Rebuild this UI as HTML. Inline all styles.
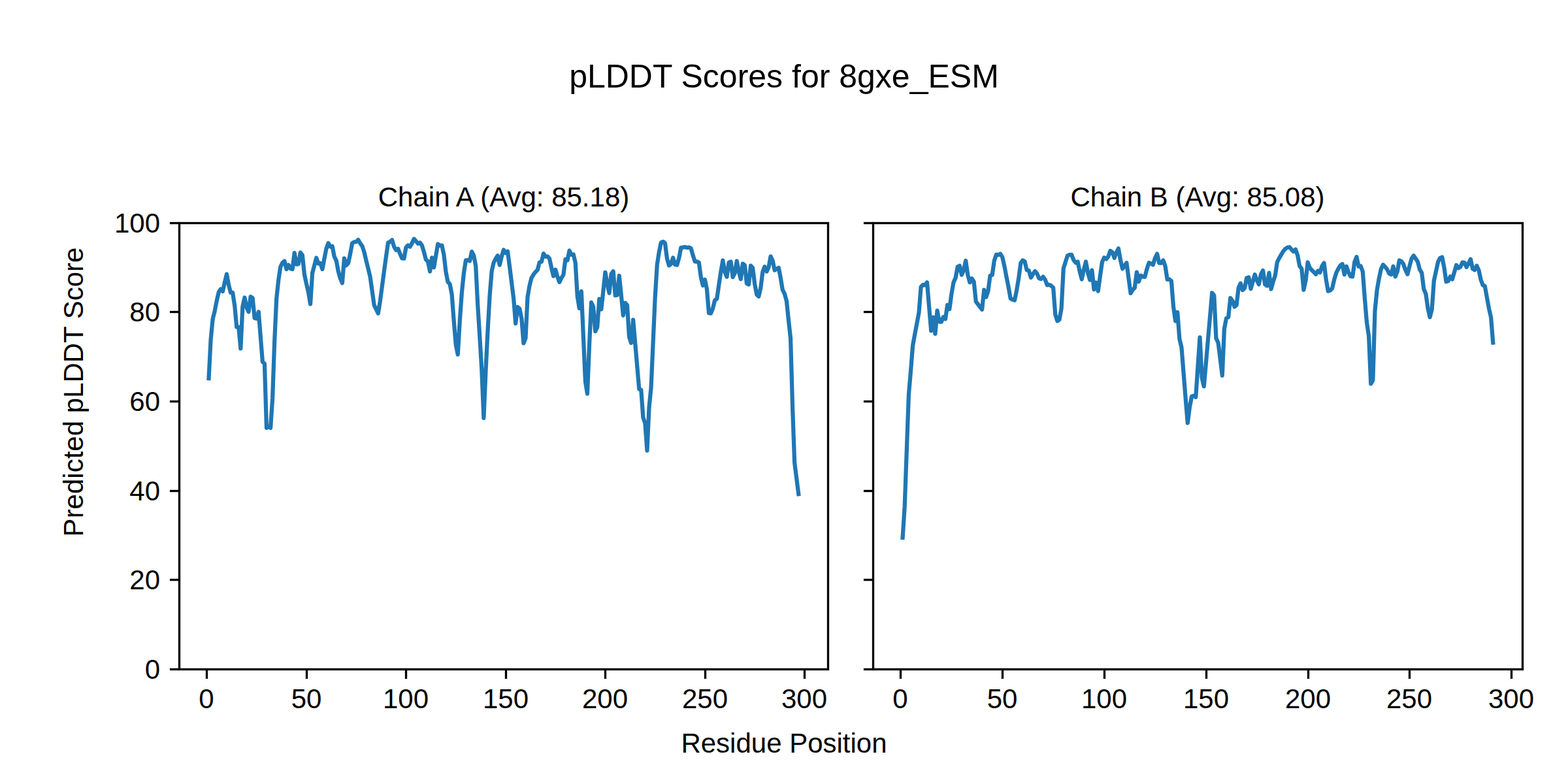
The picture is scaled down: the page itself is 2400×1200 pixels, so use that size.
<!DOCTYPE html>
<html lang="en"><head><meta charset="utf-8"><title>pLDDT Scores for 8gxe_ESM</title>
<style>html,body{margin:0;padding:0;background:#fff;}body{width:2400px;height:1200px;overflow:hidden;font-family:"Liberation Sans",sans-serif;}svg{display:block;}.sp{stroke:#000;stroke-width:3.3333;fill:none;stroke-linecap:square}.tk{stroke:#000;stroke-width:3.3333;fill:none;stroke-linecap:butt}.ln{stroke:#1f77b4;stroke-width:6.25;fill:none;stroke-linejoin:round;stroke-linecap:square}.t{font-family:"Liberation Sans",sans-serif;fill:#000}</style></head><body>
<svg width="2400" height="1200" viewBox="0 0 2400 1200">
<rect x="0" y="0" width="2400" height="1200" fill="#fff"/>
<defs>
<clipPath id="ca"><rect x="274.40" y="340.70" width="993.00" height="683.20"/></clipPath>
<clipPath id="cb"><rect x="1336.40" y="340.70" width="994.00" height="683.20"/></clipPath>
</defs>
<g clip-path="url(#ca)"><polyline class="ln" points="319.54,579.14 322.59,519.70 325.64,488.27 328.69,475.97 331.74,460.26 334.79,447.28 337.83,442.50 340.88,445.91 343.93,432.25 346.98,419.61 350.03,436.01 353.08,447.96 356.13,447.96 359.18,467.78 362.23,500.57 365.28,500.57 368.33,533.36 371.38,469.14 374.43,455.48 377.48,470.51 380.53,477.34 383.58,454.11 386.63,456.16 389.68,486.90 392.73,487.59 395.78,477.34 398.83,515.60 401.88,553.86 404.93,556.59 407.98,654.97 411.03,652.92 414.08,654.97 417.13,609.88 420.18,522.43 423.23,456.84 426.28,428.15 429.33,408.34 432.38,402.19 435.43,399.46 438.48,412.09 441.53,405.60 444.58,411.07 447.63,412.09 450.68,387.16 453.73,404.58 456.78,404.24 459.83,386.47 462.87,390.57 465.92,419.95 468.97,434.30 472.02,447.28 475.07,465.38 478.12,417.90 481.17,406.29 484.22,394.67 487.27,403.55 490.32,402.87 493.37,412.09 496.42,396.04 499.47,380.67 502.52,372.13 505.57,377.59 508.62,376.91 511.67,392.62 514.72,398.77 517.77,415.17 520.82,426.10 523.87,433.27 526.92,395.36 529.97,406.29 533.02,402.87 536.07,388.52 539.12,372.13 542.17,370.42 545.22,370.08 548.27,367.00 551.32,372.47 554.37,376.57 557.42,385.79 560.47,398.77 563.52,411.07 566.57,423.71 569.62,445.23 572.67,467.09 575.72,473.24 578.77,479.73 581.82,460.94 584.86,438.06 587.91,415.17 590.96,392.62 594.01,371.44 597.06,370.08 600.11,367.34 603.16,377.59 606.21,382.72 609.26,380.67 612.31,388.52 615.36,395.36 618.41,395.70 621.46,378.62 624.51,375.54 627.56,377.59 630.61,372.13 633.66,365.64 636.71,369.05 639.76,372.81 642.81,371.44 645.86,375.54 648.91,385.79 651.96,397.41 655.01,400.14 658.06,415.51 661.11,394.33 664.16,409.36 667.21,390.92 670.26,373.49 673.31,375.88 676.36,375.54 679.41,389.89 682.46,416.19 685.51,431.57 688.56,434.64 691.61,450.70 694.66,491.00 697.71,527.56 700.76,542.59 703.81,490.32 706.86,447.96 709.90,418.24 712.95,398.43 716.00,398.09 719.05,399.46 722.10,385.11 725.15,390.92 728.20,406.97 731.25,467.09 734.30,515.60 737.35,566.16 740.40,639.94 743.45,568.21 746.50,506.72 749.55,453.09 752.60,415.17 755.65,401.85 758.70,396.04 761.75,391.26 764.80,405.60 767.85,392.62 770.90,382.38 773.95,387.16 777.00,384.77 780.05,408.00 783.10,432.59 786.15,456.84 789.20,495.10 792.25,469.82 795.30,472.56 798.35,487.59 801.40,525.37 804.45,517.65 807.50,454.79 810.55,437.03 813.60,425.08 816.65,420.22 819.70,416.19 822.75,413.12 825.80,401.50 828.85,400.82 831.90,388.11 834.94,392.76 837.99,392.35 841.04,395.83 844.09,410.04 847.14,422.68 850.19,412.71 853.24,423.37 856.29,431.84 859.34,425.42 862.39,420.63 865.44,396.86 868.49,398.36 871.54,383.54 874.59,389.89 877.64,389.34 880.69,401.91 883.74,453.43 886.79,471.87 889.84,445.91 892.89,514.92 895.94,583.92 898.99,602.71 902.04,527.90 905.09,462.99 908.14,469.82 911.19,507.06 914.24,500.57 917.29,457.53 920.34,473.51 923.39,445.23 926.44,416.81 929.49,434.50 932.54,448.65 935.59,419.27 938.64,415.24 941.69,452.06 944.74,451.72 947.79,422.00 950.84,452.06 953.89,482.81 956.94,463.68 959.98,467.09 963.03,515.80 966.08,524.89 969.13,489.50 972.18,524.89 975.23,560.28 978.28,595.53 981.33,596.90 984.38,638.92 987.43,648.14 990.48,689.61 993.53,623.54 996.58,593.14 999.63,523.80 1002.68,455.48 1005.73,405.60 1008.78,385.79 1011.83,371.24 1014.88,369.80 1017.93,372.26 1020.98,395.83 1024.03,406.42 1027.08,403.96 1030.13,394.40 1033.18,404.92 1036.23,405.60 1039.28,394.81 1042.33,379.10 1045.38,378.55 1048.43,378.07 1051.48,379.10 1054.53,378.55 1057.58,380.05 1060.63,390.78 1063.68,400.41 1066.73,400.41 1069.78,401.91 1072.83,424.32 1075.88,437.03 1078.93,427.94 1081.97,442.63 1085.02,479.25 1088.07,479.73 1091.12,471.87 1094.17,459.58 1097.22,457.53 1100.27,436.48 1103.32,416.19 1106.37,398.50 1109.42,416.19 1112.47,423.71 1115.52,401.91 1118.57,400.48 1121.62,424.19 1124.67,418.17 1127.72,399.46 1130.77,415.17 1133.82,427.26 1136.87,403.55 1139.92,406.01 1142.97,433.96 1146.02,435.46 1149.07,406.63 1152.12,410.04 1155.17,434.50 1158.22,450.70 1161.27,453.70 1164.32,440.58 1167.37,416.19 1170.42,408.13 1173.47,415.58 1176.52,409.02 1179.57,392.35 1182.62,398.91 1185.67,413.53 1188.72,411.62 1191.77,409.84 1194.82,425.42 1197.87,443.66 1200.92,449.74 1203.97,460.94 1207.01,490.32 1210.06,517.85 1213.11,624.23 1216.16,708.26 1219.21,732.17 1222.26,756.29"/></g>
<g clip-path="url(#cb)"><polyline class="ln" points="1381.58,823.04 1384.70,775.22 1387.81,689.13 1390.93,603.73 1394.05,567.52 1397.16,528.58 1400.28,511.50 1403.39,495.10 1406.51,478.36 1409.63,439.08 1412.74,435.80 1415.86,436.35 1418.97,432.25 1422.09,469.14 1425.21,506.31 1428.32,485.68 1431.44,510.95 1434.55,475.29 1437.67,492.37 1440.79,492.71 1443.90,485.13 1447.02,488.27 1450.13,466.75 1453.25,473.24 1456.37,450.01 1459.48,432.25 1462.60,425.42 1465.71,408.34 1468.83,406.77 1471.95,420.77 1475.06,413.46 1478.18,398.98 1481.29,420.77 1484.41,432.25 1487.53,426.30 1490.64,431.22 1493.76,461.63 1496.87,465.73 1499.99,469.82 1503.11,473.72 1506.22,443.73 1509.34,454.66 1512.45,445.23 1515.57,421.66 1518.69,420.77 1521.80,398.98 1524.92,389.62 1528.03,390.16 1531.15,388.52 1534.27,393.78 1537.38,407.24 1540.50,423.85 1543.61,439.42 1546.73,457.05 1549.85,458.62 1552.96,459.58 1556.08,444.55 1559.19,426.10 1562.31,402.60 1565.43,398.43 1568.54,400.48 1571.66,413.46 1574.77,414.01 1577.89,424.87 1581.01,419.68 1584.12,415.03 1587.24,418.65 1590.35,425.96 1593.47,426.99 1596.58,423.57 1599.70,428.01 1602.82,436.35 1605.93,435.80 1609.05,437.37 1612.16,440.45 1615.28,481.44 1618.40,491.35 1621.51,489.23 1624.63,471.87 1627.74,411.07 1630.86,400.82 1633.98,391.26 1637.09,389.89 1640.21,389.89 1643.32,398.09 1646.44,402.19 1649.56,400.48 1652.67,415.58 1655.79,427.47 1658.90,412.44 1662.02,400.48 1665.14,417.63 1668.25,428.49 1671.37,413.46 1674.48,443.04 1677.60,432.39 1680.72,445.64 1683.83,422.82 1686.95,401.03 1690.06,394.26 1693.18,396.38 1696.30,392.76 1699.41,383.95 1702.53,386.00 1705.64,394.81 1708.76,386.47 1711.88,380.33 1714.99,397.95 1718.11,411.41 1721.22,407.24 1724.34,402.19 1727.46,425.96 1730.57,448.78 1733.69,443.59 1736.80,440.45 1739.92,416.60 1743.04,431.09 1746.15,421.80 1749.27,423.37 1752.38,423.85 1755.50,411.41 1758.62,402.19 1761.73,403.55 1764.85,405.19 1767.96,394.81 1771.08,388.52 1774.20,402.60 1777.31,402.60 1780.43,398.43 1783.54,407.24 1786.66,427.81 1789.78,427.47 1792.89,430.06 1796.01,469.14 1799.12,491.35 1802.24,477.82 1805.36,518.81 1808.47,531.79 1811.59,570.94 1814.70,609.88 1817.82,647.46 1820.94,622.86 1824.05,606.81 1827.17,605.78 1830.28,607.83 1833.40,561.37 1836.52,516.28 1839.63,577.98 1842.75,591.43 1845.86,555.91 1848.98,519.70 1852.10,484.17 1855.21,448.24 1858.33,452.40 1861.44,517.79 1864.56,524.48 1867.68,549.08 1870.79,574.83 1873.91,503.30 1877.02,487.18 1880.14,485.54 1883.26,456.02 1886.37,460.26 1889.49,469.55 1892.60,467.09 1895.72,440.45 1898.84,433.68 1901.95,444.07 1905.07,440.99 1908.18,425.42 1911.30,424.39 1914.42,442.02 1917.53,431.09 1920.65,420.22 1923.76,429.04 1926.88,435.25 1930.00,419.68 1933.11,414.01 1936.23,435.25 1939.34,437.37 1942.46,417.63 1945.58,442.50 1948.69,431.09 1951.81,421.80 1954.92,401.03 1958.04,394.81 1961.16,389.62 1964.27,384.42 1967.39,380.80 1970.50,378.75 1973.62,378.21 1976.74,381.83 1979.85,384.97 1982.97,381.83 1986.08,390.64 1989.20,407.24 1992.32,411.41 1995.43,443.59 1998.55,429.04 2001.66,401.50 2004.78,409.84 2007.90,413.46 2011.01,416.54 2014.13,419.68 2017.24,414.49 2020.36,417.08 2023.48,407.24 2026.59,402.60 2029.71,428.01 2032.82,445.64 2035.94,444.55 2039.06,441.47 2042.17,428.01 2045.29,417.63 2048.40,411.41 2051.52,406.29 2054.64,404.17 2057.75,420.22 2060.87,407.79 2063.98,416.54 2067.10,422.82 2070.22,423.37 2073.33,401.03 2076.45,393.24 2079.56,407.79 2082.68,407.24 2085.79,415.58 2088.91,456.84 2092.03,493.74 2095.14,514.64 2098.26,587.34 2101.37,581.87 2104.49,475.63 2107.61,444.07 2110.72,426.37 2113.84,411.75 2116.95,405.19 2120.07,408.34 2123.19,412.44 2126.30,418.65 2129.42,420.22 2132.53,407.79 2135.65,423.37 2138.77,415.58 2141.88,398.43 2145.00,400.00 2148.11,404.17 2151.23,413.46 2154.35,419.68 2157.46,407.24 2160.58,395.83 2163.69,391.19 2166.81,395.83 2169.93,400.48 2173.04,412.44 2176.16,417.63 2179.27,442.50 2182.39,449.81 2185.51,471.87 2188.62,485.54 2191.74,473.24 2194.85,429.52 2197.97,415.24 2201.09,400.82 2204.20,394.81 2207.32,393.58 2210.43,409.29 2213.55,431.09 2216.67,430.20 2219.78,423.37 2222.90,427.47 2226.01,416.60 2229.13,405.67 2232.25,410.39 2235.36,408.34 2238.48,401.50 2241.59,402.05 2244.71,408.82 2247.83,403.08 2250.94,396.72 2254.06,411.41 2257.17,413.26 2260.29,406.77 2263.41,413.46 2266.52,428.01 2269.64,436.35 2272.75,437.85 2275.87,455.00 2278.99,472.15 2282.10,485.61 2285.22,524.48"/></g>
<line class="tk" x1="316.5" y1="1024.5" x2="316.5" y2="1039.08"/>
<line class="tk" x1="469.5" y1="1024.5" x2="469.5" y2="1039.08"/>
<line class="tk" x1="621.5" y1="1024.5" x2="621.5" y2="1039.08"/>
<line class="tk" x1="774.5" y1="1024.5" x2="774.5" y2="1039.08"/>
<line class="tk" x1="926.5" y1="1024.5" x2="926.5" y2="1039.08"/>
<line class="tk" x1="1079.5" y1="1024.5" x2="1079.5" y2="1039.08"/>
<line class="tk" x1="1231.5" y1="1024.5" x2="1231.5" y2="1039.08"/>
<line class="tk" x1="259.92" y1="1024.5" x2="274.5" y2="1024.5"/>
<line class="tk" x1="259.92" y1="887.5" x2="274.5" y2="887.5"/>
<line class="tk" x1="259.92" y1="751.5" x2="274.5" y2="751.5"/>
<line class="tk" x1="259.92" y1="614.5" x2="274.5" y2="614.5"/>
<line class="tk" x1="259.92" y1="477.5" x2="274.5" y2="477.5"/>
<line class="tk" x1="259.92" y1="341.5" x2="274.5" y2="341.5"/>
<rect class="sp" x="274.5" y="341.5" width="993.0" height="683.0"/>
<line class="tk" x1="1378.5" y1="1024.5" x2="1378.5" y2="1039.08"/>
<line class="tk" x1="1534.5" y1="1024.5" x2="1534.5" y2="1039.08"/>
<line class="tk" x1="1690.5" y1="1024.5" x2="1690.5" y2="1039.08"/>
<line class="tk" x1="1846.5" y1="1024.5" x2="1846.5" y2="1039.08"/>
<line class="tk" x1="2002.5" y1="1024.5" x2="2002.5" y2="1039.08"/>
<line class="tk" x1="2157.5" y1="1024.5" x2="2157.5" y2="1039.08"/>
<line class="tk" x1="2313.5" y1="1024.5" x2="2313.5" y2="1039.08"/>
<line class="tk" x1="1321.92" y1="1024.5" x2="1336.5" y2="1024.5"/>
<line class="tk" x1="1321.92" y1="887.5" x2="1336.5" y2="887.5"/>
<line class="tk" x1="1321.92" y1="751.5" x2="1336.5" y2="751.5"/>
<line class="tk" x1="1321.92" y1="614.5" x2="1336.5" y2="614.5"/>
<line class="tk" x1="1321.92" y1="477.5" x2="1336.5" y2="477.5"/>
<line class="tk" x1="1321.92" y1="341.5" x2="1336.5" y2="341.5"/>
<rect class="sp" x="1336.5" y="341.5" width="994.0" height="683.0"/>
<text class="t" x="1200" y="134" font-size="50" text-anchor="middle">pLDDT Scores for 8gxe_ESM</text>
<text class="t" x="771" y="316" font-size="42" text-anchor="middle">Chain A (Avg: 85.18)</text>
<text class="t" x="1833" y="316" font-size="42" text-anchor="middle">Chain B (Avg: 85.08)</text>
<text class="t" x="1200" y="1152" font-size="42" text-anchor="middle">Residue Position</text>
<text class="t" x="127" y="600" font-size="42" text-anchor="middle" transform="rotate(-90 127 600)">Predicted pLDDT Score</text>
<text class="t" x="316" y="1084" font-size="42" text-anchor="middle">0</text>
<text class="t" x="469" y="1084" font-size="42" text-anchor="middle">50</text>
<text class="t" x="621" y="1084" font-size="42" text-anchor="middle">100</text>
<text class="t" x="774" y="1084" font-size="42" text-anchor="middle">150</text>
<text class="t" x="926" y="1084" font-size="42" text-anchor="middle">200</text>
<text class="t" x="1079" y="1084" font-size="42" text-anchor="middle">250</text>
<text class="t" x="1231" y="1084" font-size="42" text-anchor="middle">300</text>
<text class="t" x="1378" y="1084" font-size="42" text-anchor="middle">0</text>
<text class="t" x="1534" y="1084" font-size="42" text-anchor="middle">50</text>
<text class="t" x="1690" y="1084" font-size="42" text-anchor="middle">100</text>
<text class="t" x="1846" y="1084" font-size="42" text-anchor="middle">150</text>
<text class="t" x="2002" y="1084" font-size="42" text-anchor="middle">200</text>
<text class="t" x="2157" y="1084" font-size="42" text-anchor="middle">250</text>
<text class="t" x="2313" y="1084" font-size="42" text-anchor="middle">300</text>
<text class="t" x="245" y="1039" font-size="42" text-anchor="end">0</text>
<text class="t" x="245" y="902" font-size="42" text-anchor="end">20</text>
<text class="t" x="245" y="766" font-size="42" text-anchor="end">40</text>
<text class="t" x="245" y="629" font-size="42" text-anchor="end">60</text>
<text class="t" x="245" y="492" font-size="42" text-anchor="end">80</text>
<text class="t" x="245" y="356" font-size="42" text-anchor="end">100</text>
</svg></body></html>
